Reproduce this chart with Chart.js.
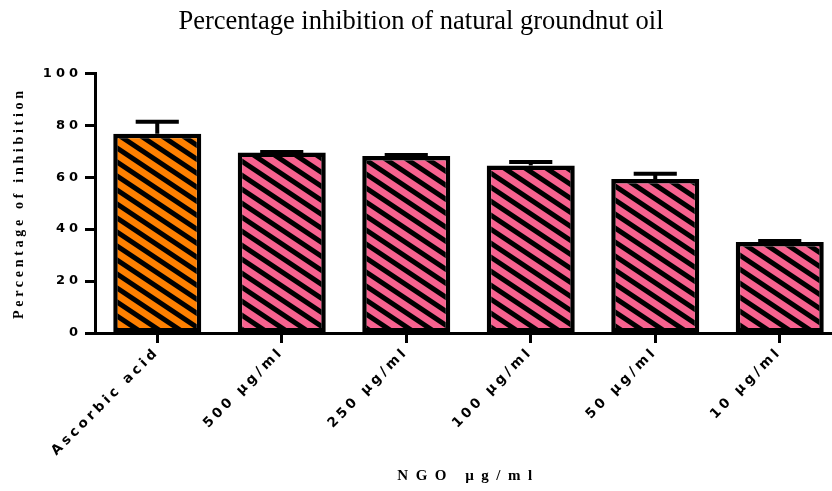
<!DOCTYPE html>
<html>
<head>
<meta charset="utf-8">
<title>Percentage inhibition of natural groundnut oil</title>
<script src="https://cdn.jsdelivr.net/npm/chart.js@4.4.1/dist/chart.umd.min.js"></script>
<style>
    html, body { margin: 0; padding: 0; background: #fff; overflow: hidden; }
    #chartBox { width: 845px; height: 491px; }
</style>
</head>
<body>
<div id="chartBox"><canvas id="inhibitionChart" width="845" height="491"></canvas></div>
<script>
// --- Data ---
const groups = ['Ascorbic acid', '500 µg/ml', '250 µg/ml', '100 µg/ml', '50 µg/ml', '10 µg/ml'];
const inhibition = [76.7, 69.5, 68.2, 64.5, 59.3, 35.0];   // % inhibition (bar top)
const inhibitionErr = [4.6, 0.2, 0.3, 1.3, 2.0, 0.4];      // upper error bar
const yTickValues = [0, 20, 40, 60, 80, 100];

const ORANGE = '#FF8000';
const PINK = '#F7628F';

// diagonal hatch fill like the Prism bars
function hatch(color) {
    const w = 21, h = 14;
    const c = document.createElement('canvas');
    c.width = w; c.height = h;
    const g = c.getContext('2d');
    g.fillStyle = color;
    g.fillRect(0, 0, w, h);
    g.strokeStyle = '#000';
    g.lineWidth = 5;
    [-w, 0, w].forEach(o => {
        g.beginPath();
        g.moveTo(o - w, -h);
        g.lineTo(o + 2 * w, 2 * h);
        g.stroke();
    });
    return g.createPattern(c, 'repeat');
}

// error bars (upper only, the lower half is hidden by the bar)
const errorBars = {
    id: 'errorBars',
    afterDatasetsDraw(chart) {
        const ctx = chart.ctx;
        const y = chart.scales.y;
        const meta = chart.getDatasetMeta(0);
        ctx.save();
        ctx.strokeStyle = '#000';
        ctx.lineWidth = 4;
        meta.data.forEach((bar, i) => {
            const top = y.getPixelForValue(inhibition[i] + inhibitionErr[i]);
            const half = bar.width * 0.245;
            ctx.beginPath();
            ctx.moveTo(bar.x, bar.y);
            ctx.lineTo(bar.x, top);
            ctx.moveTo(bar.x - half, top);
            ctx.lineTo(bar.x + half, top);
            ctx.stroke();
        });
        ctx.restore();
    }
};

// Prism-style wide letter spacing on axis text
const spacing = { x: { ticks: '3.5px', title: '7.5px' }, y: { ticks: '4px', title: '3.7px' } };
const letterSpacing = {
    id: 'letterSpacing',
    beforeDraw(chart) {
        Object.keys(spacing).forEach(id => {
            const scale = chart.scales[id];
            if (!scale || scale._spaced) return;
            scale._spaced = true;
            const drawLabels = scale.drawLabels.bind(scale);
            const drawTitle = scale.drawTitle.bind(scale);
            scale.drawLabels = area => {
                scale.ctx.save();
                scale.ctx.letterSpacing = spacing[id].ticks;
                drawLabels(area);
                scale.ctx.restore();
            };
            scale.drawTitle = () => {
                scale.ctx.save();
                scale.ctx.letterSpacing = spacing[id].title;
                drawTitle();
                scale.ctx.restore();
            };
        });
    }
};

Chart.defaults.color = '#000';
Chart.defaults.font.family = '"DejaVu Sans", "Liberation Sans", Arial, sans-serif';

const ctx = document.getElementById('inhibitionChart');
new Chart(ctx, {
    type: 'bar',
    data: {
        labels: groups,
        datasets: [{
            data: inhibition,
            backgroundColor: groups.map((g, i) => hatch(i === 0 ? ORANGE : PINK)),
            borderColor: '#000',
            borderWidth: 4.5,
            borderSkipped: false,
            barPercentage: 0.707,
            categoryPercentage: 1
        }]
    },
    options: {
        responsive: false,
        animation: false,
        layout: { padding: { left: 0, right: 3, top: 0, bottom: 0 } },
        plugins: {
            legend: { display: false },
            tooltip: { enabled: false },
            title: {
                display: true,
                text: 'Percentage inhibition of natural groundnut oil',
                color: '#000',
                font: { family: '"Liberation Serif", "Times New Roman", serif', size: 26.5, weight: 'normal' },
                padding: { top: 6.5, bottom: 35 }
            }
        },
        scales: {
            x: {
                grid: { display: true, drawOnChartArea: false, offset: false, tickLength: 10, tickWidth: 3, tickColor: '#000' },
                border: { display: true, color: '#000', width: 3 },
                ticks: {
                    autoSkip: false,
                    maxRotation: 45,
                    minRotation: 45,
                    padding: 1,
                    color: '#000',
                    font: { size: 13.5, weight: 'bold' }
                },
                title: {
                    display: true,
                    text: 'NGO µg/ml',
                    color: '#000',
                    font: { family: '"Liberation Serif", "Times New Roman", serif', size: 15, weight: 'bold' },
                    padding: { top: 0, bottom: 6 }
                },
                afterFit(scale) { scale.height = 158; }
            },
            y: {
                min: 0,
                max: 100,
                afterBuildTicks(scale) { scale.ticks = yTickValues.map(v => ({ value: v })); },
                grid: { display: true, drawOnChartArea: false, tickLength: 10, tickWidth: 3, tickColor: '#000' },
                border: { display: true, color: '#000', width: 3 },
                ticks: {
                    padding: 3,
                    color: '#000',
                    font: { size: 13, weight: 'bold' }
                },
                title: {
                    display: true,
                    text: 'Percentage of inhibition',
                    color: '#000',
                    font: { family: '"Liberation Serif", "Times New Roman", serif', size: 14, weight: 'bold' },
                    padding: { top: 11, bottom: 0 }
                },
                afterFit(scale) { scale.width = 95; }
            }
        }
    },
    plugins: [errorBars, letterSpacing]
});
</script>
</body>
</html>
